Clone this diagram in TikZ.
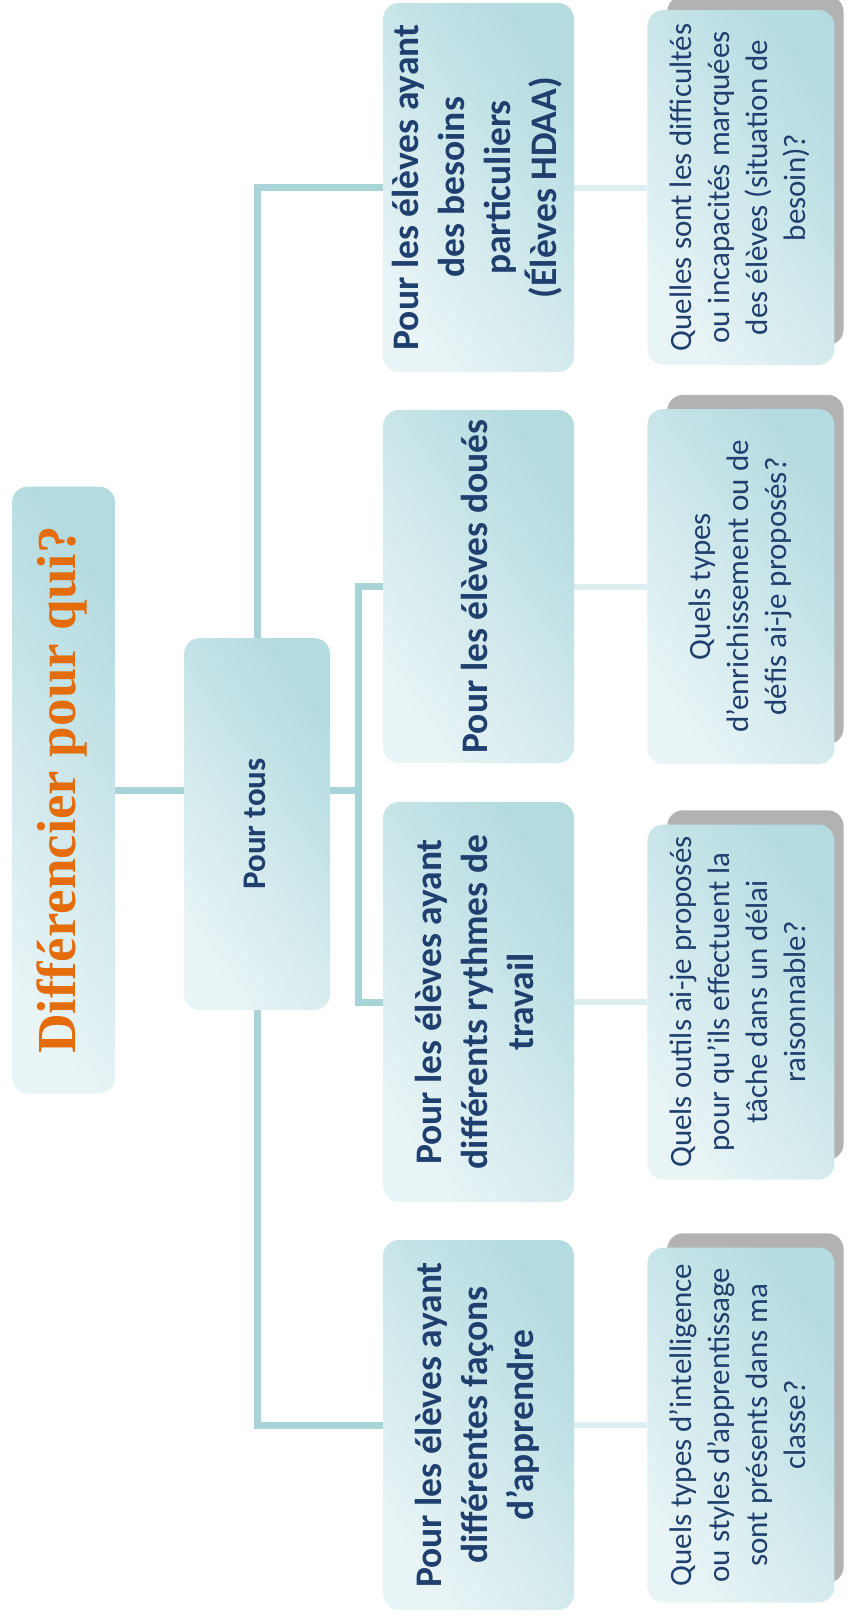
\documentclass[tikz,border=0pt]{standalone}
\usepackage{fontspec}
\setmainfont{Carlito}
\newfontfamily\titlefont{Liberation Serif}
\usetikzlibrary{positioning,backgrounds}

\definecolor{boxdark}{HTML}{B3DBE0}
\definecolor{boxlight}{HTML}{E9F4F6}
\definecolor{linkteal}{HTML}{A8D4D8}
\definecolor{linklight}{HTML}{DDEEF0}
\definecolor{shadowgray}{HTML}{B2B2B2}
\definecolor{textblue}{HTML}{1F3F6E}
\definecolor{titleorange}{HTML}{E46C0A}

\newcommand{\uptext}[1]{\rotatebox{90}{\begin{tabular}{@{}c@{}}#1\end{tabular}}}

\begin{document}
\begin{tikzpicture}[x=1pt, y=-1pt,
    box/.style={rounded corners=16pt, top color=boxdark, bottom color=boxlight, shading angle=-55, inner sep=0pt, text=textblue},
    lvltwo/.style={box, minimum width=191pt, font=\fontsize{37.5}{46}\selectfont\bfseries},
    lvlthree/.style={box, minimum width=187pt, minimum height=355pt, font=\fontsize{31}{38}\selectfont},
    link/.style={draw=linkteal, line width=7pt},
    sublink/.style={draw=linklight, line width=6pt}
  ]
\useasboundingbox (0,0) rectangle (851,1622);

% Title and root
\node[box, minimum width=103pt, minimum height=607pt, text=titleorange,
  font=\titlefont\fontsize{55}{62}\selectfont\bfseries] (title) at (63.5,790) {\uptext{Différencier pour qui?}};
\node[box, minimum width=146pt, minimum height=372pt,
  font=\fontsize{33}{40}\selectfont\bfseries] (tous) at (257,824) {\uptext{Pour tous}};

% Groups of pupils
\node[lvltwo, minimum height=369pt] (besoins) at (478.5,187.5) {\uptext{Pour les élèves ayant\\des besoins\\particuliers\\(Élèves HDAA)}};
\node[lvltwo, minimum height=353pt] (doues) at (478.5,586.5) {\uptext{Pour les élèves doués}};
\node[lvltwo, minimum height=400pt] (rythmes) at (478.5,1002) {\uptext{Pour les élèves ayant\\différents rythmes de\\travail}};
\node[lvltwo, minimum height=370pt] (facons) at (478.5,1425) {\uptext{Pour les élèves ayant\\différentes façons\\d’apprendre}};

% Questions
\node[lvlthree, right=73pt of besoins] (qbesoins) {\uptext{Quelles sont les difficultés\\ou incapacités marquées\\des élèves (situation de\\besoin)?}};
\node[lvlthree, right=73pt of doues] (qdoues) {\uptext{Quels types\\d'enrichissement ou de\\défis ai-je proposés?}};
\node[lvlthree, right=73pt of rythmes] (qrythmes) {\uptext{Quels outils ai-je proposés\\pour qu'ils effectuent la\\tâche dans un délai\\raisonnable?}};
\node[lvlthree, right=73pt of facons] (qfacons) {\uptext{Quels types d'intelligence\\ou styles d’apprentissage\\sont présents dans ma\\classe?}};

\begin{scope}[on background layer]
% Shadows behind the questions
\foreach \q in {qbesoins,qdoues,qrythmes,qfacons}
  \fill[shadowgray, rounded corners=16pt] ([xshift=20pt,yshift=20pt]\q.south west) rectangle ([xshift=9pt,yshift=14pt]\q.north east);

% Connectors
\coordinate (hub) at (358,790);
\draw[link] (title.east) -- (title.east -| tous.west);
\draw[link] (tous.east |- hub) -- (hub);
\draw[link] (doues.west) -| (hub) |- (rythmes.west);
\draw[link] (tous.north) |- (besoins.west);
\draw[link] (tous.south) |- (facons.west);
\foreach \a/\b in {besoins/qbesoins, doues/qdoues, rythmes/qrythmes, facons/qfacons}
  \draw[sublink] (\a.east) -- (\b.west);
\end{scope}

\end{tikzpicture}
\end{document}
